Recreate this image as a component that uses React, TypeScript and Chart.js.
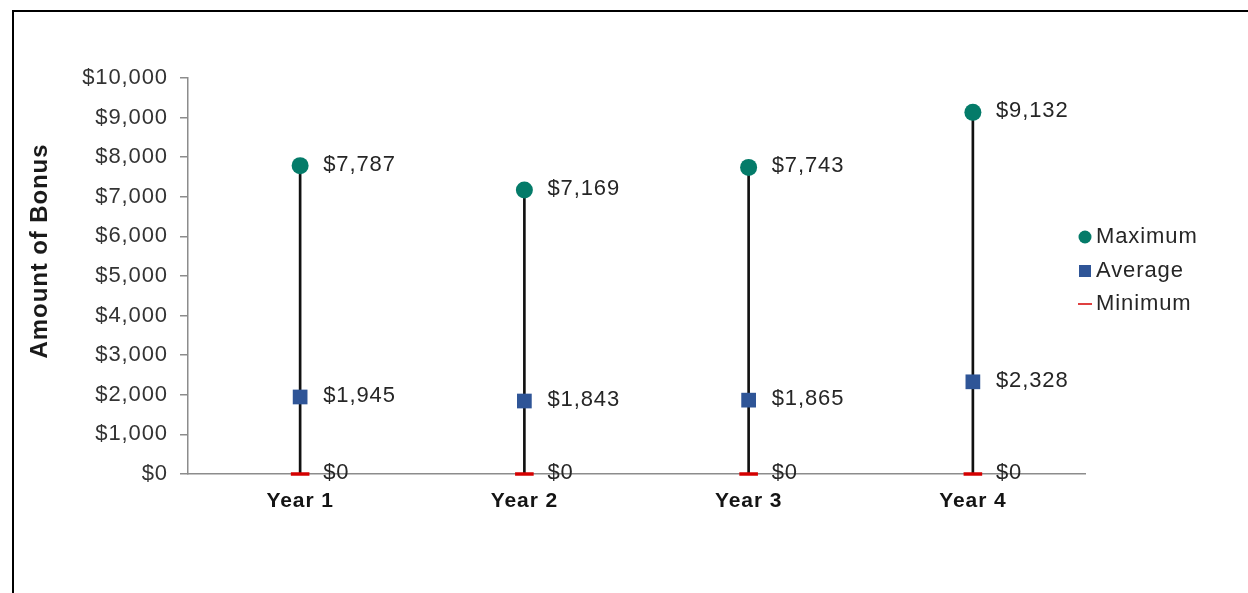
import React, { useEffect, useRef } from 'react';
import { Chart, registerables } from 'chart.js';
import { drawPoint } from 'chart.js/helpers';

Chart.register(...registerables);

// ---- data ----
const categories = ['Year 1', 'Year 2', 'Year 3', 'Year 4'];
const maximumValues = [7787, 7169, 7743, 9132];
const averageValues = [1945, 1843, 1865, 2328];
const minimumValues = [0, 0, 0, 0];
const seriesNames = ['Maximum', 'Average', 'Minimum'];
const yAxisTitle = 'Amount of Bonus';
const yMin = 0;
const yMax = 10000;
const yStep = 1000;

// ---- style ----
const FONT = '"Liberation Sans", Arial, sans-serif';
const LS = '0.9px';
const MAX_C = '#047B69';
const AVG_C = '#2F5597';
const MIN_C = '#D40000';
const AXIS_C = '#8C8C8C';
const TEXT_C = '#262626';

const fmt = (v: number) => '$' + Number(v).toLocaleString('en-US');

const spacingPlugin = {
  id: 'spacing',
  beforeUpdate(chart: any) { chart.ctx.letterSpacing = LS; },
  beforeDraw(chart: any) { chart.ctx.letterSpacing = LS; },
};

const annotatePlugin = {
  id: 'annotate',
  afterDatasetsDraw(chart: any) {
    const ctx = chart.ctx;
    ctx.save();
    ctx.letterSpacing = LS;
    ctx.font = `22px ${FONT}`;
    ctx.fillStyle = TEXT_C;
    ctx.textAlign = 'left';
    ctx.textBaseline = 'middle';
    [0, 1, 2].forEach((di) => {
      const meta = chart.getDatasetMeta(di);
      meta.data.forEach((el: any, i: number) => {
        const v = chart.data.datasets[di].data[i] as number;
        ctx.fillText(fmt(v), el.x + 23, el.y - 1);
      });
    });
    ctx.restore();
  },
  afterDraw(chart: any) {
    const ctx = chart.ctx;
    // y axis title
    ctx.save();
    ctx.letterSpacing = LS;
    ctx.translate(26, 239);
    ctx.rotate(-Math.PI / 2);
    ctx.font = `bold 24px ${FONT}`;
    ctx.fillStyle = '#1a1a1a';
    ctx.textAlign = 'center';
    ctx.textBaseline = 'middle';
    ctx.fillText(yAxisTitle, 0, 0);
    ctx.restore();

    // legend
    const items = [
      { style: 'circle', radius: 6.5, fill: MAX_C, stroke: MAX_C, bw: 0 },
      { style: 'rect', radius: 8.5, fill: AVG_C, stroke: AVG_C, bw: 0 },
      { style: 'line', radius: 7, fill: MIN_C, stroke: MIN_C, bw: 1.5 },
    ];
    const ys = [225, 259, 292];
    const mx = chart.chartArea.right;
    items.forEach((it, i) => {
      ctx.save();
      ctx.fillStyle = it.fill;
      ctx.strokeStyle = it.stroke;
      ctx.lineWidth = it.bw;
      drawPoint(ctx, { pointStyle: it.style, radius: it.radius, rotation: 0, borderWidth: it.bw } as any, mx, ys[i]);
      ctx.restore();
      ctx.save();
      ctx.letterSpacing = LS;
      ctx.font = `22px ${FONT}`;
      ctx.fillStyle = TEXT_C;
      ctx.textAlign = 'left';
      ctx.textBaseline = 'middle';
      ctx.fillText(seriesNames[i], mx + 11, ys[i]);
      ctx.restore();
    });
  },
};

export default function App() {
  const ref = useRef<HTMLCanvasElement>(null);
  useEffect(() => {
    Chart.defaults.font.family = FONT;
    const chart = new Chart(ref.current as HTMLCanvasElement, {
      type: 'bar',
      data: {
        labels: categories,
        datasets: [
          {
            type: 'line',
            label: seriesNames[0],
            data: maximumValues,
            showLine: false,
            pointStyle: 'circle',
            pointRadius: 8.5,
            pointBackgroundColor: MAX_C,
            pointBorderColor: MAX_C,
            pointBorderWidth: 0,
            order: 1,
            clip: false,
          } as any,
          {
            type: 'line',
            label: seriesNames[1],
            data: averageValues,
            showLine: false,
            pointStyle: 'rect',
            pointRadius: 10.4,
            pointBackgroundColor: AVG_C,
            pointBorderColor: AVG_C,
            pointBorderWidth: 0,
            order: 2,
            clip: false,
          } as any,
          {
            type: 'line',
            label: seriesNames[2],
            data: minimumValues,
            showLine: false,
            pointStyle: 'line',
            pointRadius: 9.3,
            pointBackgroundColor: MIN_C,
            pointBorderColor: MIN_C,
            pointBorderWidth: 3.5,
            order: 3,
            clip: false,
          } as any,
          {
            type: 'bar',
            label: 'range',
            data: maximumValues.map((m, i) => [minimumValues[i], m]),
            backgroundColor: '#111111',
            borderWidth: 0,
            barThickness: 2,
            order: 10,
          } as any,
        ],
      },
      options: {
        responsive: false,
        devicePixelRatio: 1,
        animation: false,
        layout: { padding: { top: 66, right: 163, bottom: 59, left: 0 } },
        plugins: {
          legend: { display: false },
          tooltip: { enabled: false },
        },
        scales: {
          x: {
            grid: { display: false, drawTicks: false },
            border: { display: true, color: AXIS_C, width: 1.5 },
            ticks: { font: { size: 21, weight: 'bold' }, color: '#141414', padding: 15 },
            afterFit: (s: any) => { s.height = 60; },
          },
          y: {
            min: yMin,
            max: yMax,
            ticks: {
              stepSize: yStep,
              callback: (v: any) => fmt(v),
              font: { size: 22 },
              color: '#333333',
              padding: 12,
            },
            grid: { drawOnChartArea: false, drawTicks: true, tickLength: 8, color: AXIS_C, lineWidth: 1.5 },
            border: { color: AXIS_C, width: 1.5 },
            afterFit: (s: any) => { s.width = 174; },
          },
        },
      } as any,
      plugins: [spacingPlugin, annotatePlugin],
    });
    return () => chart.destroy();
  }, []);

  return (
    <div
      style={{
        position: 'absolute',
        left: 12,
        top: 10,
        width: 1236,
        height: 583,
        borderTop: '2px solid #000',
        borderLeft: '2px solid #000',
        boxSizing: 'border-box',
        background: '#fff',
      }}
    >
      <canvas ref={ref} width={1234} height={581} style={{ display: 'block', width: 1234, height: 581 }} />
    </div>
  );
}
